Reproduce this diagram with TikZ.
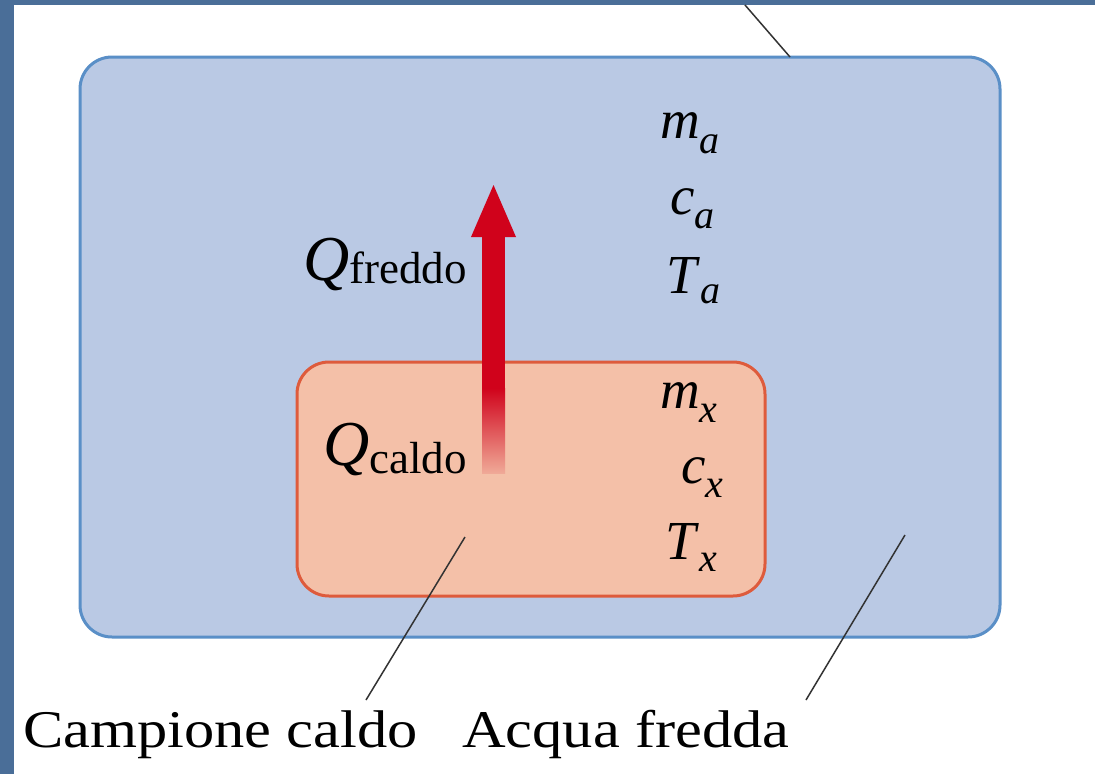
\documentclass[tikz,border=0pt]{standalone}
\usepackage{fontspec}
\setmainfont{Liberation Serif}
\newfontfamily\wideserif[FakeStretch=1.14]{Liberation Serif}
\usetikzlibrary{positioning}
\definecolor{SlideBlue}{HTML}{4A6E98}
\definecolor{WaterFill}{HTML}{BAC9E4}
\definecolor{WaterLine}{HTML}{5A8FC7}
\definecolor{SampleFill}{HTML}{F4C0A8}
\definecolor{SampleLine}{HTML}{DE5B3C}
\definecolor{HeatRed}{HTML}{D0021B}
\newcommand{\varsym}[3]{\textit{#1}\raisebox{-#3pt}{\fontsize{40}{40}\selectfont\textit{#2}}}
\newcommand{\heatsym}[2]{{\fontsize{64}{64}\selectfont\textit{Q}}\raisebox{-#2pt}{\fontsize{45}{45}\selectfont #1}}
\begin{document}
\begin{tikzpicture}[x=1pt,y=-1pt,>=stealth]
  \tikzstyle{waterbox}=[draw=WaterLine,fill=WaterFill,line width=3pt,
    rounded corners=32pt,minimum width=920pt,minimum height=580pt]
  \tikzstyle{samplebox}=[draw=SampleLine,fill=SampleFill,line width=3pt,
    rounded corners=32pt,minimum width=468pt,minimum height=234pt]
  \tikzstyle{varlabel}=[anchor=base west,inner sep=0pt,
    font=\fontsize{55}{60}\selectfont]
  \tikzstyle{caption}=[anchor=base west,inner sep=0pt,
    font=\wideserif\fontsize{53}{60}\selectfont]
  \tikzstyle{leader}=[draw=black!80,line width=1.5pt]
  \useasboundingbox (0,0) rectangle (1095,774);
  \fill[white] (0,0) rectangle (1095,774);
  \fill[SlideBlue] (0,0) rectangle (1095,5);
  \fill[SlideBlue] (0,0) rectangle (14,774);
  % containers
  \node[waterbox] (water) at (540,347) {};
  \node[samplebox] (sample) at (531,479) {};
  % heat flow arrow
  \shade[top color=HeatRed,bottom color=HeatRed!12!SampleFill]
    (482,388) rectangle (505,473);
  \fill[HeatRed] (482,389) rectangle (505,236);
  \fill[HeatRed] (471,237) -- (493.5,185) -- (516,237) -- cycle;
  % quantities
  \node[varlabel] (ma) at (660,138) {\varsym{m}{a}{15}};
  \node[varlabel] (ca) at (670,214) {\varsym{c}{a}{14}};
  \node[varlabel] (Ta) at (666,293) {\varsym{T}{a}{10}};
  \node[varlabel] (mx) at (660,408) {\varsym{m}{x}{14}};
  \node[varlabel] (cx) at (681,483) {\varsym{c}{x}{14}};
  \node[varlabel] (Tx) at (665,559) {\varsym{T}{x}{12}};
  \node[varlabel] (qf) at (303,280) {\heatsym{freddo}{3}};
  \node[varlabel] (qc) at (323,465) {\heatsym{caldo}{8}};
  % captions and leaders
  \node[caption] (campione) at (23,747) {Campione caldo};
  \node[caption] (acqua) at (462,747) {Acqua fredda};
  \coordinate (topEnd) at (745,5);
  \coordinate (waterTop) at (790,57);
  \coordinate (samplePt) at (465,537);
  \coordinate (campioneEnd) at (366,700);
  \coordinate (waterPt) at (905,535);
  \coordinate (acquaEnd) at (806,700);
  \draw[leader] (topEnd) -- (waterTop);
  \draw[leader] (samplePt) -- (campioneEnd);
  \draw[leader] (waterPt) -- (acquaEnd);
\end{tikzpicture}
\end{document}
